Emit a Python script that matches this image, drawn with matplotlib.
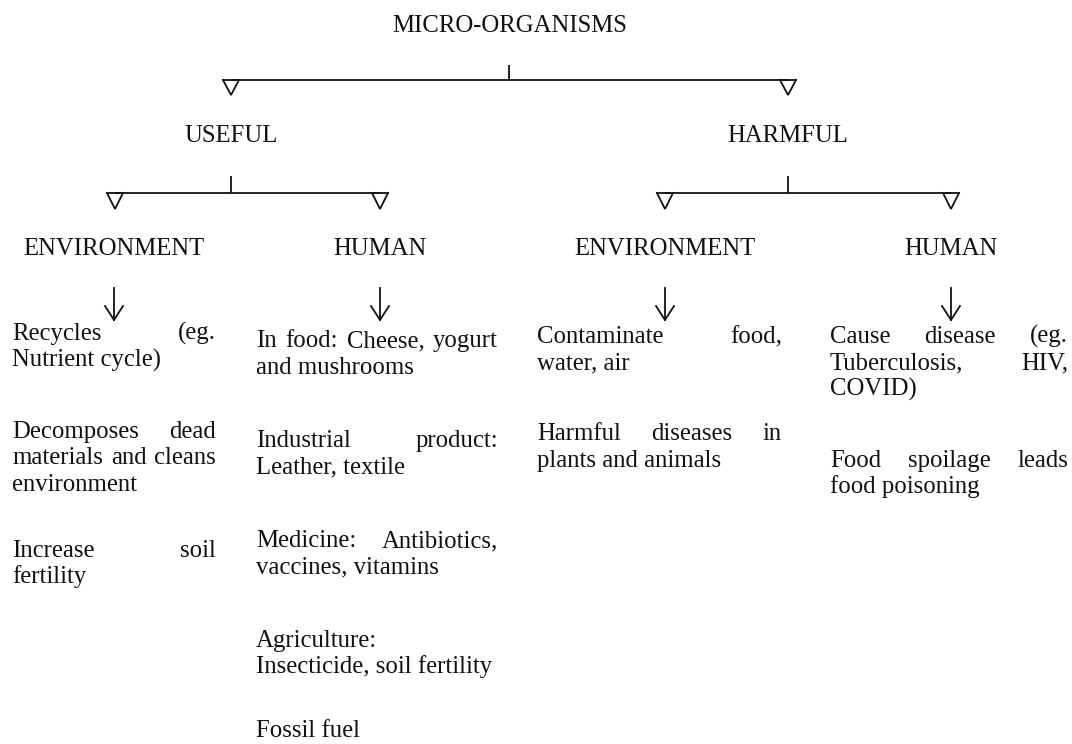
import matplotlib
matplotlib.use("Agg")
import matplotlib.pyplot as plt

# ---- content ----
root = "MICRO-ORGANISMS"
groups = ["USEFUL", "HARMFUL"]
subgroups = ["ENVIRONMENT", "HUMAN", "ENVIRONMENT", "HUMAN"]

useful_env = [["Recycles (eg.", "Nutrient cycle)"],
              ["Decomposes dead", "materials and cleans", "environment"],
              ["Increase soil", "fertility"]]
useful_human = [["In food: Cheese, yogurt", "and mushrooms"],
                ["Industrial product:", "Leather, textile"],
                ["Medicine: Antibiotics,", "vaccines, vitamins"],
                ["Agriculture:", "Insecticide, soil fertility"],
                ["Fossil fuel"]]
harmful_env = [["Contaminate food,", "water, air"],
               ["Harmful diseases in", "plants and animals"]]
harmful_human = [["Cause disease (eg.", "Tuberculosis, HIV,", "COVID)"],
                 ["Food spoilage leads", "food poisoning"]]
columns = [useful_env, useful_human, harmful_env, harmful_human]

# ---- layout (pixel coordinates) ----
W, H = 1072, 744
FONT = "Liberation Serif"
FS = 17.8
INK = "#111111"
LW = 1.3

fig = plt.figure(figsize=(W / 100, H / 100), dpi=100)
ax = fig.add_axes([0, 0, 1, 1])
ax.set_xlim(0, W)
ax.set_ylim(H, 0)
ax.axis("off")
renderer = fig.canvas.get_renderer()


def txt(x, y, s, ha="left"):
    return ax.text(x, y, s, ha=ha, va="baseline", fontsize=FS,
                   family=FONT, color=INK)


def branch(xc, xl, xr, y_top, y_bar, y_tip, hw=8):
    ax.plot([xc, xc], [y_top, y_bar], color=INK, lw=LW, solid_capstyle="butt")
    ax.plot([xl, xr], [y_bar, y_bar], color=INK, lw=LW, solid_capstyle="butt")
    for x in (xl, xr):
        ax.plot([x - hw, x, x + hw], [y_bar, y_tip, y_bar], color=INK, lw=LW,
                solid_joinstyle="miter")
        ax.plot([x - hw, x + hw], [y_bar, y_bar], color=INK, lw=LW)


def down_arrow(x, y0, y1, hw=9, hh=14):
    ax.plot([x, x], [y0, y1], color=INK, lw=LW)
    ax.plot([x - hw, x, x + hw], [y1 - hh, y1, y1 - hh], color=INK, lw=LW,
            solid_joinstyle="miter")


def paragraph(lines, x0, x1, y0, lh=26.5):
    for i, line in enumerate(lines):
        y = y0 + i * lh
        words = line.split()
        if i == len(lines) - 1 or len(words) == 1:
            txt(x0, y, line)
            continue
        ts = [txt(0, y, w) for w in words]
        ws = [t.get_window_extent(renderer).width for t in ts]
        gap = (x1 - x0 - sum(ws)) / (len(words) - 1)
        x = x0
        for t, w in zip(ts, ws):
            t.set_x(x)
            x += w + gap


# root
txt(510, 32, root, ha="center")
branch(509, 231, 788, 65, 80, 95)

# groups
group_x = [231, 788]
for g, x in zip(groups, group_x):
    txt(x, 142, g, ha="center")

branch(231, 115, 380, 176, 193, 209)
branch(788, 665, 951, 176, 193, 209)

sub_x = [114, 380, 665, 951]
for s, x in zip(subgroups, sub_x):
    txt(x, 255, s, ha="center")
    down_arrow(x, 288, 320)

# text columns
col_bounds = [(12, 216), (256, 498), (537, 782), (830, 1068)]
col_starts = [[340, 438, 557],
              [347, 447, 547, 647, 737],
              [343, 440],
              [343, 467]]
for paras, (x0, x1), starts in zip(columns, col_bounds, col_starts):
    for p, y in zip(paras, starts):
        paragraph(p, x0, x1, y)

fig.savefig("out.png", dpi=100, facecolor="white")
